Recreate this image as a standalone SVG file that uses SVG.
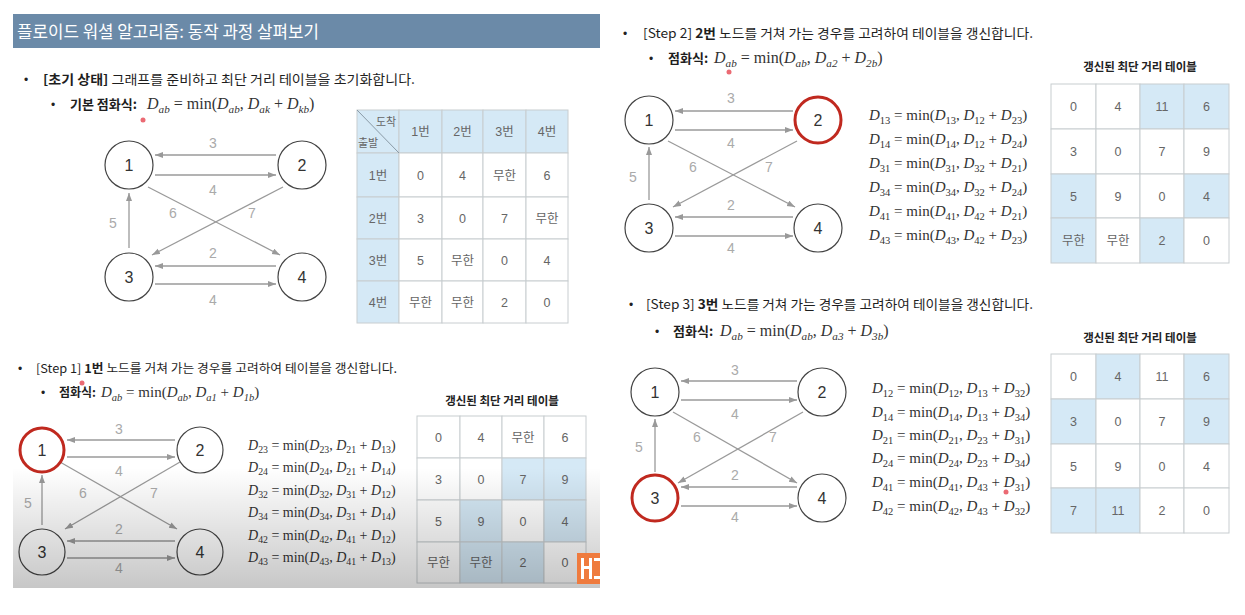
<svg xmlns="http://www.w3.org/2000/svg" width="1245" height="615" viewBox="0 0 1245 615">
<defs>
<marker id="ah" markerUnits="userSpaceOnUse" markerWidth="9" markerHeight="7" refX="8" refY="3" orient="auto"><path d="M0,0 L8,3 L0,6 z" fill="#999"/></marker>
<linearGradient id="shade" x1="0" y1="0" x2="0" y2="1"><stop offset="0" stop-color="#000" stop-opacity="0"/><stop offset="1" stop-color="#000" stop-opacity="0.22"/></linearGradient>
<style>
.k{font-family:"Noto Sans CJK KR","Noto Sans",sans-serif;fill:#1e1e1e}
.b{font-weight:bold}
.bul{font-family:"Liberation Sans",sans-serif;font-size:12px;fill:#222}
.m{font-family:"Liberation Serif","DejaVu Serif",serif;fill:#333}
.i{font-style:italic}
.s{font-size:70%}
.e{stroke:#9a9a9a;stroke-width:1.3;fill:none;marker-end:url(#ah)}
.el{font-family:"Liberation Sans",Arial,sans-serif;font-size:14px;fill:#aaa;text-anchor:middle}
.nc{fill:#fff;stroke:#444;stroke-width:1.2}
.nr{fill:#fff;stroke:#c0291f;stroke-width:3}
.nl{font-family:"Liberation Sans",Arial,sans-serif;font-size:16px;fill:#333;text-anchor:middle}
.c{fill:#fff;stroke:#c8cdd0;stroke-width:1}
.cb{fill:#d5e9f6;stroke:#c8cdd0;stroke-width:1}
.tv{font-family:"Liberation Sans","Noto Sans CJK KR",sans-serif;font-size:12.5px;fill:#666;text-anchor:middle}
.tt{font-family:"Noto Sans CJK KR",sans-serif;font-size:11.5px;font-weight:bold;fill:#222;text-anchor:middle}
.dot{fill:#e8505a;opacity:0.85}
</style>
</defs>
<rect width="1245" height="615" fill="#fff"/>

<!-- Title -->
<g id="title">
<rect x="13" y="14" width="587" height="34" fill="#6b8aa8"/>
<text x="17" y="37.5" class="k" style="fill:#fff;font-size:17px" textLength="302" lengthAdjust="spacingAndGlyphs">플로이드 워셜 알고리즘: 동작 과정 살펴보기</text>
</g>

<!-- Initial state heading -->
<g id="init-text">
<text x="24" y="84" class="bul">•</text>
<text x="43" y="84" class="k" style="font-size:13px" textLength="372" lengthAdjust="spacingAndGlyphs"><tspan class="b">[초기 상태]</tspan> 그래프를 준비하고 최단 거리 테이블을 초기화합니다.</text>
<text x="51" y="109" class="bul">•</text>
<text x="70" y="109" class="k b" style="font-size:13px">기본 점화식:</text>
<text x="147" y="109" class="m" style="font-size:16px"><tspan class="i">D</tspan><tspan class="s i" dy="4">ab</tspan><tspan dy="-4"> = min(</tspan><tspan class="i">D</tspan><tspan class="s i" dy="4">ab</tspan><tspan dy="-4">, </tspan><tspan class="i">D</tspan><tspan class="s i" dy="4">ak</tspan><tspan dy="-4"> + </tspan><tspan class="i">D</tspan><tspan class="s i" dy="4">kb</tspan><tspan dy="-4">)</tspan></text>
<circle class="dot" cx="143" cy="120" r="2.5"/>
</g>

<!-- Graph A connectors -->
<g id="edgesA">
<path class="e" d="M276 155 L155 155"/>
<path class="e" d="M155 175 L276 175"/>
<path class="e" d="M148 187 L280 255"/>
<path class="e" d="M283 187 L152 255"/>
<path class="e" d="M129 248 L129 193"/>
<path class="e" d="M276 266 L155 266"/>
<path class="e" d="M155 284 L276 284"/>
<text class="el" x="213" y="148">3</text>
<text class="el" x="213" y="195">4</text>
<text class="el" x="173" y="218">6</text>
<text class="el" x="252" y="218">7</text>
<text class="el" x="113" y="228">5</text>
<text class="el" x="213" y="258">2</text>
<text class="el" x="213" y="305">4</text>
</g>
<g id="A1"><circle class="nc" cx="129" cy="165" r="24"/><text class="nl" x="129" y="171">1</text></g>
<g id="A2"><circle class="nc" cx="302" cy="165" r="24"/><text class="nl" x="302" y="171">2</text></g>
<g id="A3"><circle class="nc" cx="129" cy="277" r="24"/><text class="nl" x="129" y="283">3</text></g>
<g id="A4"><circle class="nc" cx="302" cy="277" r="24"/><text class="nl" x="302" y="283">4</text></g>

<!-- Table A -->
<g id="tableA">
<rect class="cb" x="357" y="110" width="42" height="43"/>
<rect class="cb" x="399" y="110" width="43" height="43"/>
<rect class="cb" x="442" y="110" width="41" height="43"/>
<rect class="cb" x="483" y="110" width="43" height="43"/>
<rect class="cb" x="526" y="110" width="42" height="43"/>
<rect class="cb" x="357" y="153" width="42" height="44"/>
<rect class="cb" x="357" y="197" width="42" height="42"/>
<rect class="cb" x="357" y="239" width="42" height="42"/>
<rect class="cb" x="357" y="281" width="42" height="42"/>
<rect class="c" x="399" y="153" width="43" height="44"/><rect class="c" x="442" y="153" width="41" height="44"/><rect class="c" x="483" y="153" width="43" height="44"/><rect class="c" x="526" y="153" width="42" height="44"/>
<rect class="c" x="399" y="197" width="43" height="42"/><rect class="c" x="442" y="197" width="41" height="42"/><rect class="c" x="483" y="197" width="43" height="42"/><rect class="c" x="526" y="197" width="42" height="42"/>
<rect class="c" x="399" y="239" width="43" height="42"/><rect class="c" x="442" y="239" width="41" height="42"/><rect class="c" x="483" y="239" width="43" height="42"/><rect class="c" x="526" y="239" width="42" height="42"/>
<rect class="c" x="399" y="281" width="43" height="42"/><rect class="c" x="442" y="281" width="41" height="42"/><rect class="c" x="483" y="281" width="43" height="42"/><rect class="c" x="526" y="281" width="42" height="42"/>
<path d="M357 110 L399 153" stroke="#8a9aa6" stroke-width="1"/>
<text class="tv" style="font-size:11px" x="386" y="126">도착</text>
<text class="tv" style="font-size:11px" x="368" y="147">출발</text>
<text class="tv" x="420.5" y="136">1번</text><text class="tv" x="462.5" y="136">2번</text><text class="tv" x="504.5" y="136">3번</text><text class="tv" x="547" y="136">4번</text>
<text class="tv" x="378" y="179.5">1번</text><text class="tv" x="420.5" y="179.5">0</text><text class="tv" x="462.5" y="179.5">4</text><text class="tv" x="504.5" y="179.5">무한</text><text class="tv" x="547" y="179.5">6</text>
<text class="tv" x="378" y="222.5">2번</text><text class="tv" x="420.5" y="222.5">3</text><text class="tv" x="462.5" y="222.5">0</text><text class="tv" x="504.5" y="222.5">7</text><text class="tv" x="547" y="222.5">무한</text>
<text class="tv" x="378" y="264.5">3번</text><text class="tv" x="420.5" y="264.5">5</text><text class="tv" x="462.5" y="264.5">무한</text><text class="tv" x="504.5" y="264.5">0</text><text class="tv" x="547" y="264.5">4</text>
<text class="tv" x="378" y="306.5">4번</text><text class="tv" x="420.5" y="306.5">무한</text><text class="tv" x="462.5" y="306.5">무한</text><text class="tv" x="504.5" y="306.5">2</text><text class="tv" x="547" y="306.5">0</text>
</g>

<!-- Step 1 text -->
<g id="step1-text">
<text x="18" y="373" class="bul">•</text>
<text x="36" y="373" class="k" style="font-size:12px" textLength="361" lengthAdjust="spacingAndGlyphs">[Step 1] <tspan class="b">1번</tspan> 노드를 거쳐 가는 경우를 고려하여 테이블을 갱신합니다.</text>
<text x="41" y="397" class="bul">•</text>
<text x="59" y="397" class="k b" style="font-size:12px">점화식:</text>
<text x="101" y="397" class="m" style="font-size:15px"><tspan class="i">D</tspan><tspan class="s i" dy="3.5">ab</tspan><tspan dy="-3.5"> = min(</tspan><tspan class="i">D</tspan><tspan class="s i" dy="3.5">ab</tspan><tspan dy="-3.5">, </tspan><tspan class="i">D</tspan><tspan class="s i" dy="3.5">a1</tspan><tspan dy="-3.5"> + </tspan><tspan class="i">D</tspan><tspan class="s i" dy="3.5">1b</tspan><tspan dy="-3.5">)</tspan></text>
<circle class="dot" cx="82" cy="383" r="2.5"/>
</g>

<!-- Graph B -->
<g id="edgesB">
<path class="e" d="M175 440 L67 440"/>
<path class="e" d="M67 457 L175 457"/>
<path class="e" d="M60 462 L177 529"/>
<path class="e" d="M180 462 L65 529"/>
<path class="e" d="M42 525 L42 475"/>
<path class="e" d="M175 541 L67 541"/>
<path class="e" d="M67 558 L175 558"/>
<text class="el" x="119" y="434">3</text>
<text class="el" x="119" y="476">4</text>
<text class="el" x="83" y="498">6</text>
<text class="el" x="154" y="498">7</text>
<text class="el" x="28" y="508">5</text>
<text class="el" x="119" y="534">2</text>
<text class="el" x="119" y="573">4</text>
</g>
<g id="B1"><circle class="nr" cx="42" cy="450" r="22"/><text class="nl" x="42" y="456">1</text></g>
<g id="B2"><circle class="nc" cx="200" cy="450" r="23"/><text class="nl" x="200" y="456">2</text></g>
<g id="B3"><circle class="nc" cx="42" cy="552" r="23"/><text class="nl" x="42" y="558">3</text></g>
<g id="B4"><circle class="nc" cx="200" cy="552" r="23"/><text class="nl" x="200" y="558">4</text></g>

<g id="eqB" class="m" style="font-size:14px">
<text x="248" y="450"><tspan class="i">D</tspan><tspan class="s" dy="3">23</tspan><tspan dy="-3"> = min(</tspan><tspan class="i">D</tspan><tspan class="s" dy="3">23</tspan><tspan dy="-3">, </tspan><tspan class="i">D</tspan><tspan class="s" dy="3">21</tspan><tspan dy="-3"> + </tspan><tspan class="i">D</tspan><tspan class="s" dy="3">13</tspan><tspan dy="-3">)</tspan></text>
<text x="248" y="472"><tspan class="i">D</tspan><tspan class="s" dy="3">24</tspan><tspan dy="-3"> = min(</tspan><tspan class="i">D</tspan><tspan class="s" dy="3">24</tspan><tspan dy="-3">, </tspan><tspan class="i">D</tspan><tspan class="s" dy="3">21</tspan><tspan dy="-3"> + </tspan><tspan class="i">D</tspan><tspan class="s" dy="3">14</tspan><tspan dy="-3">)</tspan></text>
<text x="248" y="495"><tspan class="i">D</tspan><tspan class="s" dy="3">32</tspan><tspan dy="-3"> = min(</tspan><tspan class="i">D</tspan><tspan class="s" dy="3">32</tspan><tspan dy="-3">, </tspan><tspan class="i">D</tspan><tspan class="s" dy="3">31</tspan><tspan dy="-3"> + </tspan><tspan class="i">D</tspan><tspan class="s" dy="3">12</tspan><tspan dy="-3">)</tspan></text>
<text x="248" y="517"><tspan class="i">D</tspan><tspan class="s" dy="3">34</tspan><tspan dy="-3"> = min(</tspan><tspan class="i">D</tspan><tspan class="s" dy="3">34</tspan><tspan dy="-3">, </tspan><tspan class="i">D</tspan><tspan class="s" dy="3">31</tspan><tspan dy="-3"> + </tspan><tspan class="i">D</tspan><tspan class="s" dy="3">14</tspan><tspan dy="-3">)</tspan></text>
<text x="248" y="540"><tspan class="i">D</tspan><tspan class="s" dy="3">42</tspan><tspan dy="-3"> = min(</tspan><tspan class="i">D</tspan><tspan class="s" dy="3">42</tspan><tspan dy="-3">, </tspan><tspan class="i">D</tspan><tspan class="s" dy="3">41</tspan><tspan dy="-3"> + </tspan><tspan class="i">D</tspan><tspan class="s" dy="3">12</tspan><tspan dy="-3">)</tspan></text>
<text x="248" y="562"><tspan class="i">D</tspan><tspan class="s" dy="3">43</tspan><tspan dy="-3"> = min(</tspan><tspan class="i">D</tspan><tspan class="s" dy="3">43</tspan><tspan dy="-3">, </tspan><tspan class="i">D</tspan><tspan class="s" dy="3">41</tspan><tspan dy="-3"> + </tspan><tspan class="i">D</tspan><tspan class="s" dy="3">13</tspan><tspan dy="-3">)</tspan></text>
</g>

<!-- Table B -->
<g id="tableB">
<text class="tt" x="502" y="405">갱신된 최단 거리 테이블</text>
<rect class="c" x="417" y="416" width="43" height="42"/><rect class="c" x="460" y="416" width="42" height="42"/><rect class="c" x="502" y="416" width="42" height="42"/><rect class="c" x="544" y="416" width="42" height="42"/>
<rect class="c" x="417" y="458" width="43" height="42"/><rect class="c" x="460" y="458" width="42" height="42"/><rect class="cb" x="502" y="458" width="42" height="42"/><rect class="cb" x="544" y="458" width="42" height="42"/>
<rect class="c" x="417" y="500" width="43" height="42"/><rect class="cb" x="460" y="500" width="42" height="42"/><rect class="c" x="502" y="500" width="42" height="42"/><rect class="cb" x="544" y="500" width="42" height="42"/>
<rect class="c" x="417" y="542" width="43" height="41"/><rect class="cb" x="460" y="542" width="42" height="41"/><rect class="cb" x="502" y="542" width="42" height="41"/><rect class="c" x="544" y="542" width="42" height="41"/>
<text class="tv" x="438.5" y="441.5">0</text><text class="tv" x="481" y="441.5">4</text><text class="tv" x="523" y="441.5">무한</text><text class="tv" x="565" y="441.5">6</text>
<text class="tv" x="438.5" y="483.5">3</text><text class="tv" x="481" y="483.5">0</text><text class="tv" x="523" y="483.5">7</text><text class="tv" x="565" y="483.5">9</text>
<text class="tv" x="438.5" y="525.5">5</text><text class="tv" x="481" y="525.5">9</text><text class="tv" x="523" y="525.5">0</text><text class="tv" x="565" y="525.5">4</text>
<text class="tv" x="438.5" y="567">무한</text><text class="tv" x="481" y="567">무한</text><text class="tv" x="523" y="567">2</text><text class="tv" x="565" y="567">0</text>
</g>

<!-- shading overlay of left slide bottom -->
<rect x="13" y="468" width="587" height="120" fill="url(#shade)"/>
<g id="logo">
<rect x="577" y="553" width="23" height="31" fill="#ef7b3e"/>
<rect x="581" y="558" width="3" height="21" fill="#fff"/>
<rect x="589" y="558" width="3" height="21" fill="#fff"/>
<rect x="584" y="566" width="5" height="3" fill="#fff"/>
<rect x="594" y="558" width="6" height="3" fill="#fff"/>
<rect x="594" y="576" width="6" height="3" fill="#fff"/>
</g>

<!-- Step 2 text -->
<g id="step2-text">
<text x="623" y="38" class="bul">•</text>
<text x="643" y="38" class="k" style="font-size:13px" textLength="390" lengthAdjust="spacingAndGlyphs">[Step 2] <tspan class="b">2번</tspan> 노드를 거쳐 가는 경우를 고려하여 테이블을 갱신합니다.</text>
<text x="649" y="63" class="bul">•</text>
<text x="668" y="63" class="k b" style="font-size:13px">점화식:</text>
<text x="714" y="63" class="m" style="font-size:16px"><tspan class="i">D</tspan><tspan class="s i" dy="4">ab</tspan><tspan dy="-4"> = min(</tspan><tspan class="i">D</tspan><tspan class="s i" dy="4">ab</tspan><tspan dy="-4">, </tspan><tspan class="i">D</tspan><tspan class="s i" dy="4">a2</tspan><tspan dy="-4"> + </tspan><tspan class="i">D</tspan><tspan class="s i" dy="4">2b</tspan><tspan dy="-4">)</tspan></text>
<circle class="dot" cx="729" cy="72" r="2.5"/>
</g>

<!-- Graph C -->
<g id="edgesC">
<path class="e" d="M793 111 L675 111"/>
<path class="e" d="M675 130 L793 130"/>
<path class="e" d="M668 141 L795 207"/>
<path class="e" d="M797 141 L673 207"/>
<path class="e" d="M649 200 L649 147"/>
<path class="e" d="M793 217 L675 217"/>
<path class="e" d="M675 236 L793 236"/>
<text class="el" x="731" y="103">3</text>
<text class="el" x="731" y="148">4</text>
<text class="el" x="693" y="172">6</text>
<text class="el" x="769" y="172">7</text>
<text class="el" x="633" y="182">5</text>
<text class="el" x="731" y="210">2</text>
<text class="el" x="731" y="253">4</text>
</g>
<g id="C1"><circle class="nc" cx="649" cy="120" r="24"/><text class="nl" x="649" y="126">1</text></g>
<g id="C2"><circle class="nr" cx="818" cy="120" r="23"/><text class="nl" x="818" y="126">2</text></g>
<g id="C3"><circle class="nc" cx="649" cy="228" r="24"/><text class="nl" x="649" y="234">3</text></g>
<g id="C4"><circle class="nc" cx="818" cy="228" r="24"/><text class="nl" x="818" y="234">4</text></g>

<g id="eqC" class="m" style="font-size:15px">
<text x="869" y="120"><tspan class="i">D</tspan><tspan class="s" dy="3.5">13</tspan><tspan dy="-3.5"> = min(</tspan><tspan class="i">D</tspan><tspan class="s" dy="3.5">13</tspan><tspan dy="-3.5">, </tspan><tspan class="i">D</tspan><tspan class="s" dy="3.5">12</tspan><tspan dy="-3.5"> + </tspan><tspan class="i">D</tspan><tspan class="s" dy="3.5">23</tspan><tspan dy="-3.5">)</tspan></text>
<text x="869" y="144"><tspan class="i">D</tspan><tspan class="s" dy="3.5">14</tspan><tspan dy="-3.5"> = min(</tspan><tspan class="i">D</tspan><tspan class="s" dy="3.5">14</tspan><tspan dy="-3.5">, </tspan><tspan class="i">D</tspan><tspan class="s" dy="3.5">12</tspan><tspan dy="-3.5"> + </tspan><tspan class="i">D</tspan><tspan class="s" dy="3.5">24</tspan><tspan dy="-3.5">)</tspan></text>
<text x="869" y="168"><tspan class="i">D</tspan><tspan class="s" dy="3.5">31</tspan><tspan dy="-3.5"> = min(</tspan><tspan class="i">D</tspan><tspan class="s" dy="3.5">31</tspan><tspan dy="-3.5">, </tspan><tspan class="i">D</tspan><tspan class="s" dy="3.5">32</tspan><tspan dy="-3.5"> + </tspan><tspan class="i">D</tspan><tspan class="s" dy="3.5">21</tspan><tspan dy="-3.5">)</tspan></text>
<text x="869" y="192"><tspan class="i">D</tspan><tspan class="s" dy="3.5">34</tspan><tspan dy="-3.5"> = min(</tspan><tspan class="i">D</tspan><tspan class="s" dy="3.5">34</tspan><tspan dy="-3.5">, </tspan><tspan class="i">D</tspan><tspan class="s" dy="3.5">32</tspan><tspan dy="-3.5"> + </tspan><tspan class="i">D</tspan><tspan class="s" dy="3.5">24</tspan><tspan dy="-3.5">)</tspan></text>
<text x="869" y="216"><tspan class="i">D</tspan><tspan class="s" dy="3.5">41</tspan><tspan dy="-3.5"> = min(</tspan><tspan class="i">D</tspan><tspan class="s" dy="3.5">41</tspan><tspan dy="-3.5">, </tspan><tspan class="i">D</tspan><tspan class="s" dy="3.5">42</tspan><tspan dy="-3.5"> + </tspan><tspan class="i">D</tspan><tspan class="s" dy="3.5">21</tspan><tspan dy="-3.5">)</tspan></text>
<text x="869" y="240"><tspan class="i">D</tspan><tspan class="s" dy="3.5">43</tspan><tspan dy="-3.5"> = min(</tspan><tspan class="i">D</tspan><tspan class="s" dy="3.5">43</tspan><tspan dy="-3.5">, </tspan><tspan class="i">D</tspan><tspan class="s" dy="3.5">42</tspan><tspan dy="-3.5"> + </tspan><tspan class="i">D</tspan><tspan class="s" dy="3.5">23</tspan><tspan dy="-3.5">)</tspan></text>
</g>

<!-- Table C -->
<g id="tableC">
<text class="tt" x="1140" y="71">갱신된 최단 거리 테이블</text>
<rect class="c" x="1051" y="84" width="45" height="45"/><rect class="c" x="1096" y="84" width="44" height="45"/><rect class="cb" x="1140" y="84" width="44" height="45"/><rect class="cb" x="1184" y="84" width="45" height="45"/>
<rect class="c" x="1051" y="129" width="45" height="45"/><rect class="c" x="1096" y="129" width="44" height="45"/><rect class="c" x="1140" y="129" width="44" height="45"/><rect class="c" x="1184" y="129" width="45" height="45"/>
<rect class="cb" x="1051" y="174" width="45" height="44"/><rect class="c" x="1096" y="174" width="44" height="44"/><rect class="c" x="1140" y="174" width="44" height="44"/><rect class="cb" x="1184" y="174" width="45" height="44"/>
<rect class="cb" x="1051" y="218" width="45" height="45"/><rect class="c" x="1096" y="218" width="44" height="45"/><rect class="cb" x="1140" y="218" width="44" height="45"/><rect class="c" x="1184" y="218" width="45" height="45"/>
<text class="tv" x="1073.5" y="111">0</text><text class="tv" x="1118" y="111">4</text><text class="tv" x="1162" y="111">11</text><text class="tv" x="1206.5" y="111">6</text>
<text class="tv" x="1073.5" y="156">3</text><text class="tv" x="1118" y="156">0</text><text class="tv" x="1162" y="156">7</text><text class="tv" x="1206.5" y="156">9</text>
<text class="tv" x="1073.5" y="200.5">5</text><text class="tv" x="1118" y="200.5">9</text><text class="tv" x="1162" y="200.5">0</text><text class="tv" x="1206.5" y="200.5">4</text>
<text class="tv" x="1073.5" y="245">무한</text><text class="tv" x="1118" y="245">무한</text><text class="tv" x="1162" y="245">2</text><text class="tv" x="1206.5" y="245">0</text>
</g>

<!-- Step 3 text -->
<g id="step3-text">
<text x="629" y="309" class="bul">•</text>
<text x="646" y="309" class="k" style="font-size:13px" textLength="387" lengthAdjust="spacingAndGlyphs">[Step 3] <tspan class="b">3번</tspan> 노드를 거쳐 가는 경우를 고려하여 테이블을 갱신합니다.</text>
<text x="655" y="336" class="bul">•</text>
<text x="673" y="336" class="k b" style="font-size:13px">점화식:</text>
<text x="720" y="336" class="m" style="font-size:16px"><tspan class="i">D</tspan><tspan class="s i" dy="4">ab</tspan><tspan dy="-4"> = min(</tspan><tspan class="i">D</tspan><tspan class="s i" dy="4">ab</tspan><tspan dy="-4">, </tspan><tspan class="i">D</tspan><tspan class="s i" dy="4">a3</tspan><tspan dy="-4"> + </tspan><tspan class="i">D</tspan><tspan class="s i" dy="4">3b</tspan><tspan dy="-4">)</tspan></text>
</g>

<!-- Graph D -->
<g id="edgesD">
<path class="e" d="M797 381 L681 381"/>
<path class="e" d="M681 400 L797 400"/>
<path class="e" d="M673 412 L797 483"/>
<path class="e" d="M803 412 L678 483"/>
<path class="e" d="M655 472 L655 419"/>
<path class="e" d="M797 487 L681 487"/>
<path class="e" d="M681 506 L797 506"/>
<text class="el" x="735" y="375">3</text>
<text class="el" x="735" y="419">4</text>
<text class="el" x="697" y="442">6</text>
<text class="el" x="773" y="442">7</text>
<text class="el" x="639" y="452">5</text>
<text class="el" x="735" y="480">2</text>
<text class="el" x="735" y="522">4</text>
</g>
<g id="D1"><circle class="nc" cx="655" cy="392" r="24"/><text class="nl" x="655" y="398">1</text></g>
<g id="D2"><circle class="nc" cx="822" cy="392" r="24"/><text class="nl" x="822" y="398">2</text></g>
<g id="D3"><circle class="nr" cx="655" cy="498" r="23"/><text class="nl" x="655" y="504">3</text></g>
<g id="D4"><circle class="nc" cx="822" cy="498" r="24"/><text class="nl" x="822" y="504">4</text></g>

<g id="eqD" class="m" style="font-size:15px">
<text x="872" y="393"><tspan class="i">D</tspan><tspan class="s" dy="3.5">12</tspan><tspan dy="-3.5"> = min(</tspan><tspan class="i">D</tspan><tspan class="s" dy="3.5">12</tspan><tspan dy="-3.5">, </tspan><tspan class="i">D</tspan><tspan class="s" dy="3.5">13</tspan><tspan dy="-3.5"> + </tspan><tspan class="i">D</tspan><tspan class="s" dy="3.5">32</tspan><tspan dy="-3.5">)</tspan></text>
<text x="872" y="417"><tspan class="i">D</tspan><tspan class="s" dy="3.5">14</tspan><tspan dy="-3.5"> = min(</tspan><tspan class="i">D</tspan><tspan class="s" dy="3.5">14</tspan><tspan dy="-3.5">, </tspan><tspan class="i">D</tspan><tspan class="s" dy="3.5">13</tspan><tspan dy="-3.5"> + </tspan><tspan class="i">D</tspan><tspan class="s" dy="3.5">34</tspan><tspan dy="-3.5">)</tspan></text>
<text x="872" y="440"><tspan class="i">D</tspan><tspan class="s" dy="3.5">21</tspan><tspan dy="-3.5"> = min(</tspan><tspan class="i">D</tspan><tspan class="s" dy="3.5">21</tspan><tspan dy="-3.5">, </tspan><tspan class="i">D</tspan><tspan class="s" dy="3.5">23</tspan><tspan dy="-3.5"> + </tspan><tspan class="i">D</tspan><tspan class="s" dy="3.5">31</tspan><tspan dy="-3.5">)</tspan></text>
<text x="872" y="463"><tspan class="i">D</tspan><tspan class="s" dy="3.5">24</tspan><tspan dy="-3.5"> = min(</tspan><tspan class="i">D</tspan><tspan class="s" dy="3.5">24</tspan><tspan dy="-3.5">, </tspan><tspan class="i">D</tspan><tspan class="s" dy="3.5">23</tspan><tspan dy="-3.5"> + </tspan><tspan class="i">D</tspan><tspan class="s" dy="3.5">34</tspan><tspan dy="-3.5">)</tspan></text>
<text x="872" y="487"><tspan class="i">D</tspan><tspan class="s" dy="3.5">41</tspan><tspan dy="-3.5"> = min(</tspan><tspan class="i">D</tspan><tspan class="s" dy="3.5">41</tspan><tspan dy="-3.5">, </tspan><tspan class="i">D</tspan><tspan class="s" dy="3.5">43</tspan><tspan dy="-3.5"> + </tspan><tspan class="i">D</tspan><tspan class="s" dy="3.5">31</tspan><tspan dy="-3.5">)</tspan></text>
<text x="872" y="511"><tspan class="i">D</tspan><tspan class="s" dy="3.5">42</tspan><tspan dy="-3.5"> = min(</tspan><tspan class="i">D</tspan><tspan class="s" dy="3.5">42</tspan><tspan dy="-3.5">, </tspan><tspan class="i">D</tspan><tspan class="s" dy="3.5">43</tspan><tspan dy="-3.5"> + </tspan><tspan class="i">D</tspan><tspan class="s" dy="3.5">32</tspan><tspan dy="-3.5">)</tspan></text>
<circle class="dot" cx="1006" cy="492" r="2.5"/>
</g>

<!-- Table D -->
<g id="tableD">
<text class="tt" x="1140" y="342">갱신된 최단 거리 테이블</text>
<rect class="c" x="1051" y="354" width="45" height="45"/><rect class="cb" x="1096" y="354" width="44" height="45"/><rect class="c" x="1140" y="354" width="44" height="45"/><rect class="cb" x="1184" y="354" width="45" height="45"/>
<rect class="cb" x="1051" y="399" width="45" height="45"/><rect class="c" x="1096" y="399" width="44" height="45"/><rect class="c" x="1140" y="399" width="44" height="45"/><rect class="cb" x="1184" y="399" width="45" height="45"/>
<rect class="c" x="1051" y="444" width="45" height="44"/><rect class="c" x="1096" y="444" width="44" height="44"/><rect class="c" x="1140" y="444" width="44" height="44"/><rect class="c" x="1184" y="444" width="45" height="44"/>
<rect class="cb" x="1051" y="488" width="45" height="45"/><rect class="cb" x="1096" y="488" width="44" height="45"/><rect class="c" x="1140" y="488" width="44" height="45"/><rect class="c" x="1184" y="488" width="45" height="45"/>
<text class="tv" x="1073.5" y="381">0</text><text class="tv" x="1118" y="381">4</text><text class="tv" x="1162" y="381">11</text><text class="tv" x="1206.5" y="381">6</text>
<text class="tv" x="1073.5" y="426">3</text><text class="tv" x="1118" y="426">0</text><text class="tv" x="1162" y="426">7</text><text class="tv" x="1206.5" y="426">9</text>
<text class="tv" x="1073.5" y="470.5">5</text><text class="tv" x="1118" y="470.5">9</text><text class="tv" x="1162" y="470.5">0</text><text class="tv" x="1206.5" y="470.5">4</text>
<text class="tv" x="1073.5" y="515">7</text><text class="tv" x="1118" y="515">11</text><text class="tv" x="1162" y="515">2</text><text class="tv" x="1206.5" y="515">0</text>
</g>
</svg>
